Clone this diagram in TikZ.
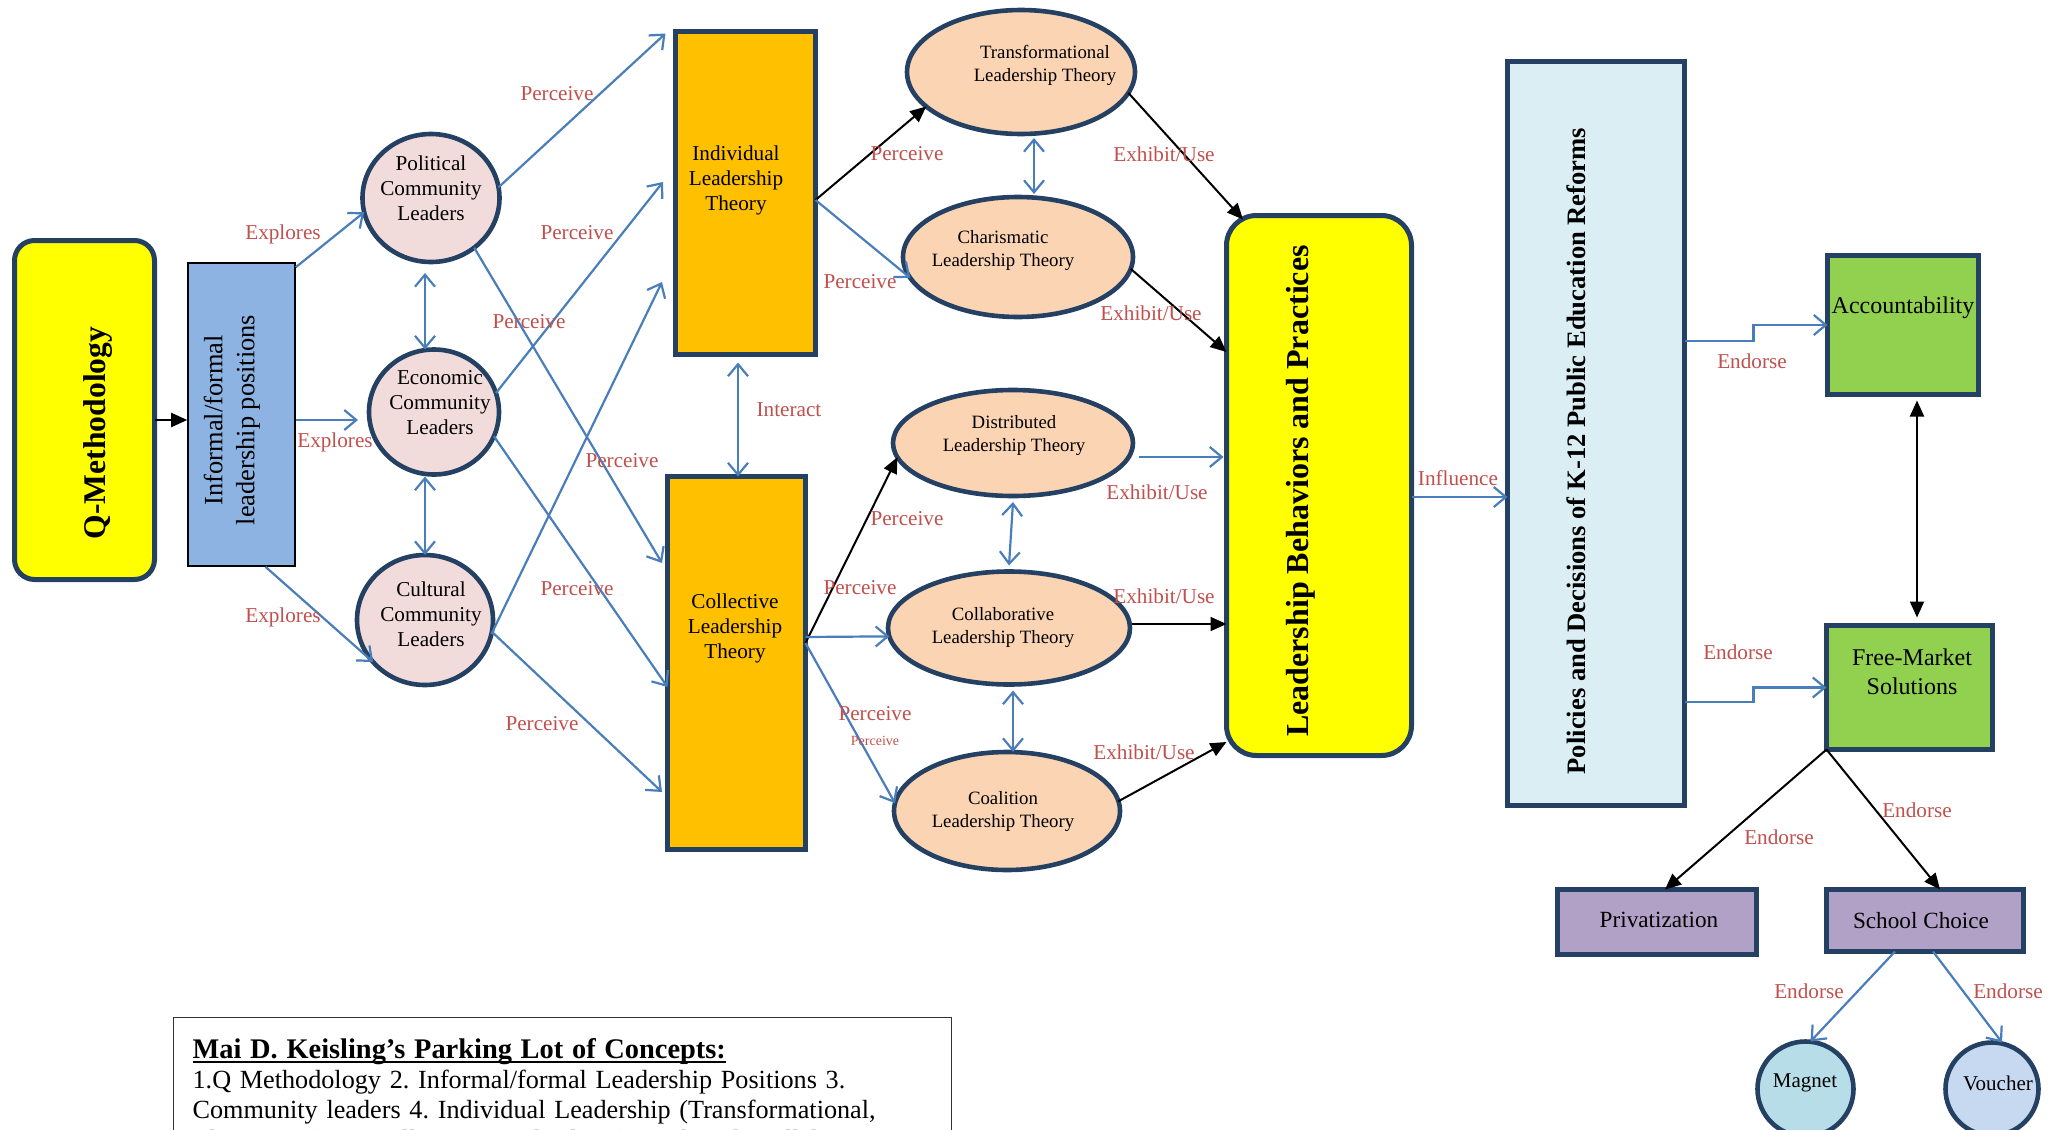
\documentclass[tikz,border=0pt]{standalone}
\usepackage{fontspec}
\setmainfont{Liberation Serif}
\usetikzlibrary{shapes.geometric,arrows.meta,calc}
\definecolor{dkb}{RGB}{36,64,98}
\definecolor{arb}{RGB}{74,126,187}
\definecolor{lred}{RGB}{192,80,77}
\definecolor{qyel}{RGB}{255,255,0}
\definecolor{org}{RGB}{255,192,0}
\definecolor{pch}{RGB}{251,212,180}
\definecolor{pnk}{RGB}{242,220,219}
\definecolor{infb}{RGB}{141,179,226}
\definecolor{polb}{RGB}{219,238,244}
\definecolor{grn}{RGB}{146,208,80}
\definecolor{pur}{RGB}{178,161,199}
\definecolor{magc}{RGB}{183,222,232}
\definecolor{vouc}{RGB}{198,217,241}
\newcommand{\myfs}[2]{\fontsize{#1}{#2}\selectfont}
\newcommand{\myul}[1]{\setbox0\hbox{#1}\rlap{\rule[-2.4pt]{\wd0}{1.1pt}}\box0}
\frenchspacing
\tikzset{
  dbox/.style={draw=dkb, line width=2.5pt, inner sep=0pt, outer sep=0pt},
  ell/.style={ellipse, draw=dkb, line width=2.3pt, inner sep=0pt, outer sep=0pt},
  bl/.style={draw=arb, line width=1.1pt, -{Straight Barb[length=6pt,width=10pt]}},
  blb/.style={draw=arb, line width=1.1pt, {Straight Barb[length=6pt,width=10pt]}-{Straight Barb[length=6pt,width=10pt]}},
  bk/.style={draw=black, line width=1pt, -{Triangle[length=8pt,width=7pt]}},
  bkb/.style={draw=black, line width=1pt, {Triangle[length=8pt,width=7pt]}-{Triangle[length=8pt,width=7pt]}},
  lbl/.style={text=lred, font=\myfs{10.6}{12}, inner sep=0pt},
  ctxt/.style={align=center, inner sep=0pt, font=\myfs{10.6}{12.5}},
  etxt/.style={align=center, inner sep=0pt, font=\myfs{9.4}{11.5}},
}
\begin{document}
\begin{tikzpicture}[x=0.5pt,y=-0.5pt]
\useasboundingbox (0,0) rectangle (2053,1130);
\clip (0,0) rectangle (2053,1130);

% ---------- shapes ----------
\node[dbox, fill=qyel, rounded corners=10pt, minimum width=70pt, minimum height=169.5pt] (qm) at (84.5,410) {};
\node[rotate=90, inner sep=0pt, font=\bfseries\myfs{15.8}{19}] (qmt) at (98,433) {Q-Methodology};

\node[draw=black, line width=0.8pt, fill=infb, inner sep=0pt, minimum width=53.5pt, minimum height=151.5pt] (inf) at (241.5,414.5) {};
\node[rotate=90, align=center, inner sep=0pt, font=\myfs{13.2}{16}] (inft) at (232,420) {Informal/formal\\leadership positions};

\node[ell, fill=pnk, minimum width=68.5pt, minimum height=64pt] (pol) at (431,198) {};
\node[ctxt] (polt) at (431,188) {Political\\Community\\Leaders};
\node[ell, fill=pnk, minimum width=65pt, minimum height=62.5pt] (eco) at (434,412) {};
\node[ctxt] (ecot) at (440,403) {Economic\\Community\\Leaders};
\node[ell, fill=pnk, minimum width=68pt, minimum height=65pt] (cul) at (425,620) {};
\node[ctxt] (cult) at (431,614) {Cultural\\Community\\Leaders};

\node[dbox, fill=org, minimum width=70pt, minimum height=161.5pt] (ind) at (745.5,193) {};
\node[ctxt] (indt) at (736,180) {Individual\\Leadership\\Theory};
\node[dbox, fill=org, minimum width=69pt, minimum height=186.5pt] (col) at (736.5,663) {};
\node[ctxt] (colt) at (735,628) {Collective\\Leadership\\Theory};

\node[ell, fill=pch, minimum width=114pt, minimum height=62pt] (tra) at (1021,72) {};
\node[etxt] (trat) at (1045,65) {Transformational\\Leadership Theory};
\node[ell, fill=pch, minimum width=115pt, minimum height=60pt] (cha) at (1018,257) {};
\node[etxt] (chat) at (1003,251) {Charismatic\\Leadership Theory};
\node[ell, fill=pch, minimum width=120pt, minimum height=53pt] (dis) at (1013,443) {};
\node[etxt] (dist) at (1014,436) {Distributed\\Leadership Theory};
\node[ell, fill=pch, minimum width=121pt, minimum height=56.5pt] (cla) at (1009,628) {};
\node[etxt] (clat) at (1003,627.5) {Collaborative\\Leadership Theory};
\node[ell, fill=pch, minimum width=113pt, minimum height=59pt] (coa) at (1007,811) {};
\node[etxt] (coat) at (1003,811) {Coalition\\Leadership Theory};

\node[dbox, fill=qyel, rounded corners=15pt, minimum width=92.5pt, minimum height=270pt] (lbp) at (1319,485.5) {};
\node[rotate=90, inner sep=0pt, font=\bfseries\myfs{16}{19}] (lbpt) at (1301,491) {Leadership Behaviors and Practices};

\node[dbox, fill=polb, minimum width=88.5pt, minimum height=372pt] (pdr) at (1596,433.5) {};
\node[rotate=90, inner sep=0pt, font=\bfseries\myfs{13.3}{16}] (pdrt) at (1576,451) {Policies and Decisions of K-12 Public Education Reforms};

\node[dbox, fill=grn, minimum width=75.5pt, minimum height=69.5pt] (acc) at (1903,325) {};
\node[inner sep=0pt, font=\myfs{12}{14.3}] (acct) at (1903,308) {Accountability};
\node[dbox, fill=grn, minimum width=83pt, minimum height=62pt] (fms) at (1909.5,687.5) {};
\node[align=center, inner sep=0pt, font=\myfs{12}{14.3}] (fmst) at (1912,672) {Free-Market\\Solutions};

\node[dbox, fill=pur, minimum width=99.5pt, minimum height=32.5pt] (pri) at (1657,922) {};
\node[inner sep=0pt, font=\myfs{11.6}{14}] (prit) at (1659,920) {Privatization};
\node[dbox, fill=pur, minimum width=98.5pt, minimum height=31pt] (sch) at (1925,920.5) {};
\node[inner sep=0pt, font=\myfs{11.6}{14}] (scht) at (1921,921) {School Choice};

\node[ell, fill=magc, minimum width=48pt, minimum height=47.5pt] (mag) at (1805.5,1089) {};
\node[inner sep=0pt, font=\myfs{10.5}{12}] (magt) at (1805,1083) {Magnet};
\node[ell, fill=vouc, minimum width=46.5pt, minimum height=46.5pt] (vou) at (1992,1089) {};
\node[inner sep=0pt, font=\myfs{10.5}{12}] (vout) at (1998,1083) {Voucher};

\node[draw=black!80, line width=0.6pt, anchor=north west, inner xsep=9.5pt, inner ysep=10.5pt, align=left, text width=370pt, font=\myfs{13.1}{15}] (plc) at (173,1017) {{\fontsize{14.2}{15}\selectfont\bfseries\myul{Mai D. Keisling’s Parking Lot of Concepts:}}\\
1.Q Methodology 2. Informal/formal Leadership Positions 3.\\
Community leaders 4. Individual Leadership (Transformational,\\
Charismatic). 5. Collective Leadership (Distributed, Collaborative,\\
Coalition)};

% ---------- connectors ----------
\draw[bk] ([yshift=-5pt]qm.east) -- ([yshift=-5pt]qm.east -| inf.west);

\draw[bl] ([yshift=-2.5pt]inf.north east) -- (pol.192);
\draw[bl] ([yshift=-2.75pt]inf.east) -- ([xshift=-5.5pt,yshift=-4pt]eco.west);
\draw[bl] ([xshift=12pt]inf.south) -- (cul.219);

\draw[blb] ([xshift=-3pt,yshift=-5.5pt]pol.south) -- ([xshift=-4.5pt]eco.north);
\draw[blb] ([xshift=-4.5pt,yshift=-1pt]eco.south) -- (cul.north);

\draw[bl] (pol.9) -- ([xshift=-5pt,yshift=-1pt]ind.north west);
\draw[bl] (pol.-49) -- ([xshift=-2.75pt,yshift=50pt]col.west);
\draw[bl] (eco.17) -- ([xshift=-6.25pt,yshift=5.5pt]ind.west);
\draw[bl] (eco.-22) -- ([yshift=-12pt]col.west);
\draw[bl] (cul.-12) -- ([xshift=-6.75pt,yshift=-44.5pt]ind.west);
\draw[bl] (cul.-10) -- ([xshift=-2.75pt,yshift=-64.5pt]col.west);

\draw[blb] ([xshift=-3.75pt,yshift=-4pt]ind.south) -- ([xshift=0.75pt]col.north);

\draw[bk] ([yshift=-3.5pt]ind.east) -- (tra.200);
\draw[bl] ([yshift=-3.5pt]ind.east) -- (cha.191);
\draw[blb] ([xshift=6.5pt,yshift=-2pt]tra.south) -- ([xshift=8pt,yshift=1.5pt]cha.north);

\draw[bk] ([yshift=10pt]col.east) -- (dis.187);
\draw[bl] ([yshift=13pt]col.east) -- (cla.184);
\draw[bl] ([yshift=10pt]col.east) -- (coa.176);
\draw[blb] ([xshift=0pt,yshift=-3pt]dis.south) -- ([yshift=3pt]cla.north);
\draw[blb] ([xshift=2pt,yshift=-3pt]cla.south) -- ([xshift=3pt]coa.north);

\draw[bk] (tra.-11) -- ([xshift=8.25pt,yshift=-2pt]lbp.north west);
\draw[bk] (cha.-6) -- ([yshift=66.75pt]lbp.west);
\draw[bl] ([xshift=3pt,yshift=-7pt]dis.east) -- ([xshift=-1.5pt,yshift=14.25pt]lbp.west);
\draw[bk] ([xshift=1pt,yshift=2pt]cla.east) -- ([yshift=-69.25pt]lbp.west);
\draw[bk] (coa.5) -- ([yshift=-128.25pt]lbp.west);

\draw[bl] ([yshift=-5.75pt]lbp.east) -- ([yshift=-5.75pt]lbp.east -| pdr.west);

\draw[bl] ([yshift=46.25pt]pdr.east) -- ++(69,0) |- (acc.west);
\draw[bl] ([yshift=-134.25pt]pdr.east) -- ++(69,0) |- (fms.west);
\draw[bkb] ([xshift=7pt,yshift=-3pt]acc.south) -- ([xshift=3.75pt,yshift=4pt]fms.north);

\draw[bk] (fms.south west) -- ([xshift=4pt]pri.north);
\draw[bk] (fms.south west) -- ([xshift=7.5pt]sch.north);
\draw[bl] ([xshift=-15pt]sch.south) -- ([xshift=2.5pt]mag.north);
\draw[bl] ([xshift=4pt]sch.south) -- ([xshift=5pt]vou.north);

% ---------- labels ----------
\node[lbl] (e1) at (283,234) {Explores};
\node[lbl] (e2) at (335,442) {Explores};
\node[lbl] (e3) at (283,617) {Explores};
\node[lbl] (p1) at (557,94) {Perceive};
\node[lbl] (p2) at (577,233) {Perceive};
\node[lbl] (p3) at (529,322) {Perceive};
\node[lbl] (p4) at (622,461) {Perceive};
\node[lbl] (p5) at (577,589) {Perceive};
\node[lbl] (p6) at (542,724) {Perceive};
\node[lbl] (it) at (789,410) {Interact};
\node[lbl] (p7) at (907,154) {Perceive};
\node[lbl] (p8) at (860,282) {Perceive};
\node[lbl] (p9) at (907,519) {Perceive};
\node[lbl] (p10) at (860,588) {Perceive};
\node[lbl] (p11) at (875,714) {Perceive};
\node[lbl, font=\myfs{7}{8}] (p12) at (875,741) {Perceive};
\node[lbl] (x1) at (1164,154) {Exhibit/Use};
\node[lbl] (x2) at (1151,313) {Exhibit/Use};
\node[lbl] (x3) at (1157,492) {Exhibit/Use};
\node[lbl] (x4) at (1164,596) {Exhibit/Use};
\node[lbl] (x5) at (1144,752) {Exhibit/Use};
\node[lbl] (inl) at (1458,478) {Influence};
\node[lbl] (n1) at (1752,361) {Endorse};
\node[lbl] (n2) at (1738,652) {Endorse};
\node[lbl] (n3) at (1779,837) {Endorse};
\node[lbl] (n4) at (1917,810) {Endorse};
\node[lbl] (n5) at (1809,991) {Endorse};
\node[lbl] (n6) at (2008,991) {Endorse};
\end{tikzpicture}
\end{document}
